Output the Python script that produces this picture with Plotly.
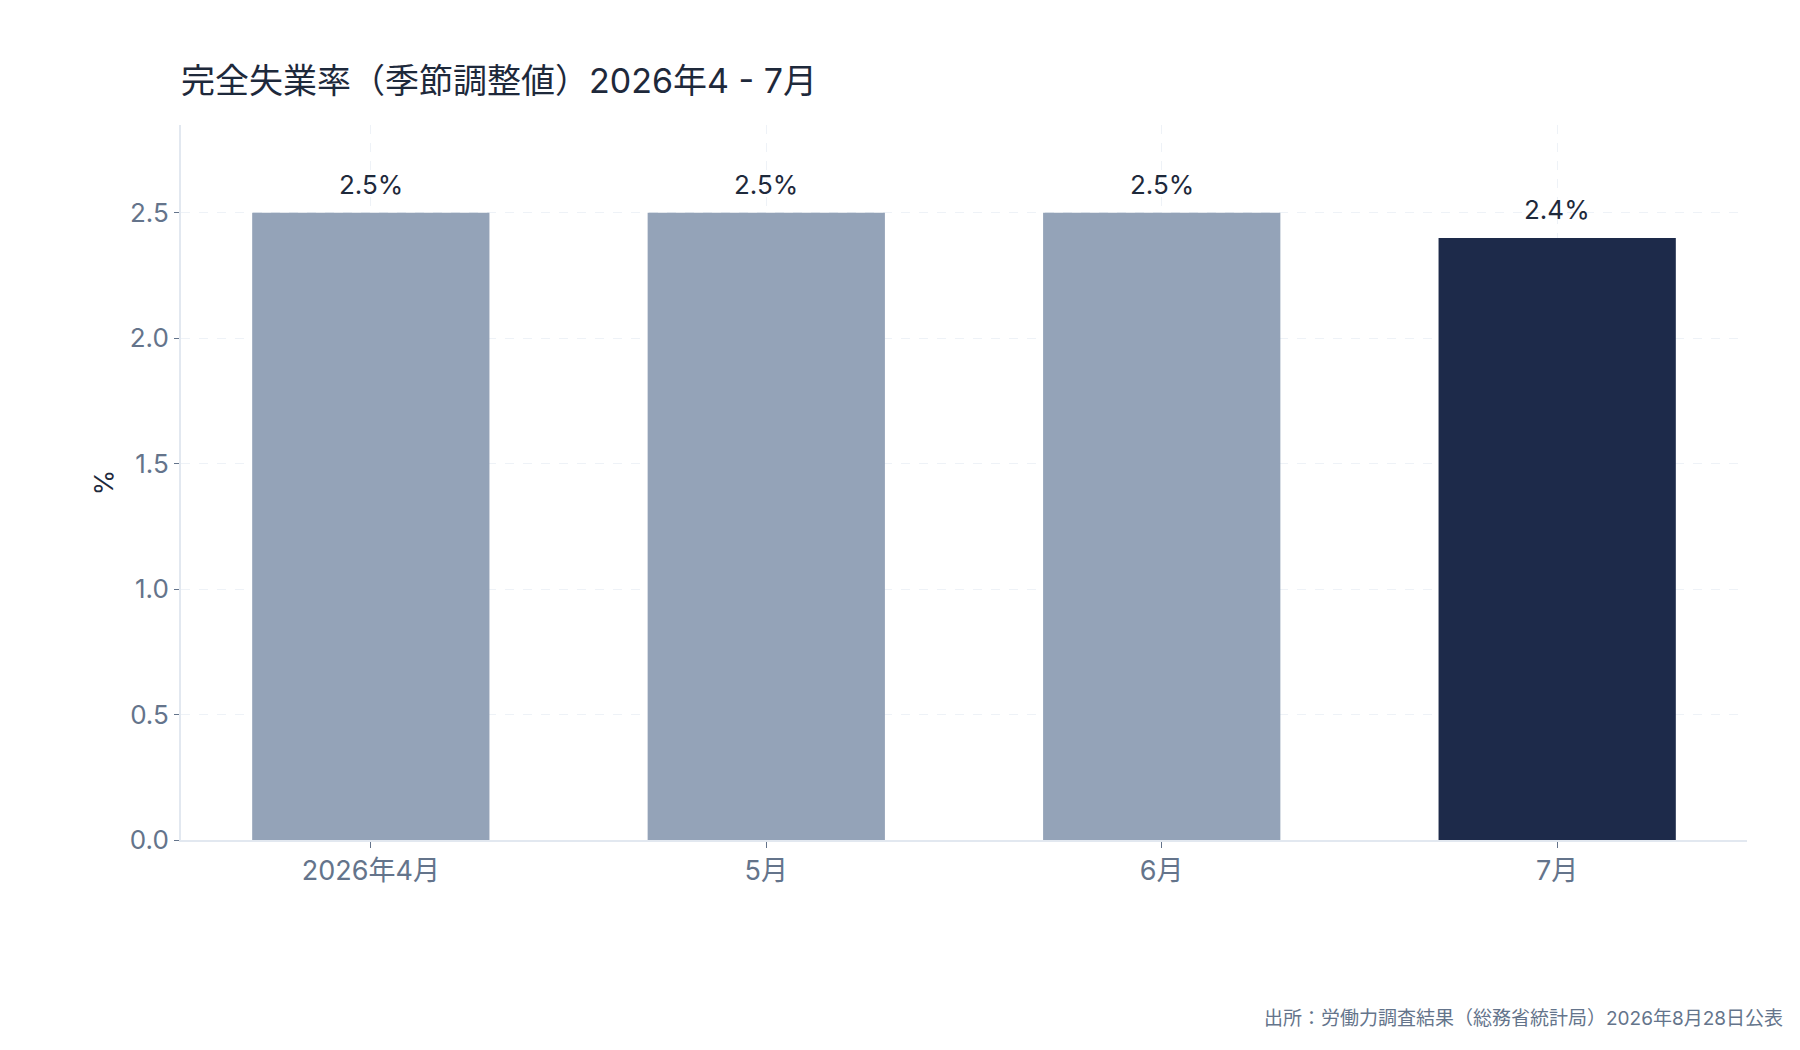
import plotly.graph_objects as go

# 完全失業率（季節調整値）
months = ["2026年4月", "5月", "6月", "7月"]
rate = [2.5, 2.5, 2.5, 2.4]
bar_colors = ["#94a3b8", "#94a3b8", "#94a3b8", "#1d2a4a"]
labels = ["2.5%", "2.5%", "2.5%", "2.4%"]
y_ticks = [0.0, 0.5, 1.0, 1.5, 2.0, 2.5]

FONT = "Inter, Noto Sans CJK JP, sans-serif"
W, H = 1784, 1034  # ページの余白8pxぶん小さく

fig = go.Figure()
fig.add_trace(go.Bar(
    x=months,
    y=rate,
    marker=dict(color=bar_colors, line=dict(width=0)),
    width=0.6,
    hoverinfo="skip",
))

# 値ラベル
for m, v, t in zip(months, rate, labels):
    fig.add_annotation(
        x=m, y=v, text=t, showarrow=False,
        yanchor="bottom", yshift=11,
        font=dict(family=FONT, size=26, color="#1e293b"),
    )

# 出所
fig.add_annotation(
    xref="paper", yref="paper", x=1, y=0,
    xanchor="right", yanchor="middle",
    xshift=38, yshift=-178,
    text="出所：労働力調査結果（総務省統計局）2026年8月28日公表",
    showarrow=False,
    font=dict(family=FONT, size=19, color="#64748b"),
)

fig.update_layout(
    width=W, height=H,
    paper_bgcolor="white", plot_bgcolor="white",
    margin=dict(l=173, r=45, t=117, b=202),
    showlegend=False,
    font=dict(family=FONT, color="#64748b"),
    title=dict(
        text="完全失業率（季節調整値）2026年4 - 7月",
        x=173 / W, xanchor="left",
        y=1 - 73 / H, yanchor="middle",
        font=dict(family=FONT, size=34, color="#1e293b"),
    ),
)

fig.update_xaxes(
    range=[-0.48, 3.48],
    showline=True, linecolor="#e2e8f0", linewidth=2,
    showgrid=True, gridcolor="#eef2f7", griddash="dash", gridwidth=1,
    ticks="outside", ticklen=6, tickcolor="#64748b", tickwidth=1,
    tickfont=dict(family=FONT, size=27, color="#64748b"),
)
fig.update_yaxes(
    range=[0, 2.85],
    tickvals=y_ticks,
    tickformat=".1f",
    showline=True, linecolor="#e2e8f0", linewidth=2,
    showgrid=True, gridcolor="#eef2f7", griddash="dash", gridwidth=1,
    zeroline=False,
    ticks="outside", ticklen=5, tickcolor="#64748b", tickwidth=1,
    tickfont=dict(family=FONT, size=26, color="#64748b"),
    title=dict(text="%", standoff=9,
               font=dict(family=FONT, size=26, color="#1e293b")),
)

fig.write_html("out.html")
